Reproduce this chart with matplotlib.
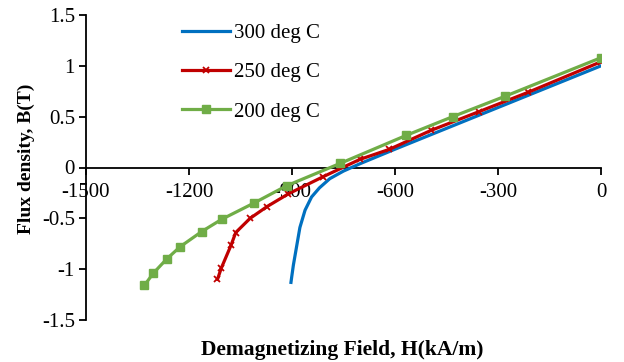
import matplotlib
matplotlib.use("Agg")
import matplotlib.pyplot as plt

# Data
h_300 = [0, -150, -300, -450, -600, -700, -750, -790, -820, -843, -862, -877, -887, -896, -901, -903]
b_300 = [1.0, 0.795, 0.59, 0.385, 0.18, 0.04, -0.035, -0.11, -0.20, -0.29, -0.42, -0.59, -0.785, -0.96, -1.08, -1.13]

h_250 = [0, -212, -355, -495, -617, -702, -809, -911, -973, -1022, -1064, -1077, -1106, -1117]
b_250 = [1.04, 0.74, 0.55, 0.365, 0.178, 0.08, -0.09, -0.26, -0.385, -0.50, -0.64, -0.76, -0.99, -1.10]

h_200 = [0, -280, -432, -568, -760, -916, -1011, -1105, -1163, -1226, -1265, -1304, -1330]
b_200 = [1.08, 0.70, 0.50, 0.315, 0.04, -0.18, -0.35, -0.51, -0.63, -0.78, -0.90, -1.04, -1.16]

labels = ["300 deg C", "250 deg C", "200 deg C"]
x_ticks = [-1500, -1200, -900, -600, -300, 0]
y_ticks = [-1.5, -1, -0.5, 0, 0.5, 1, 1.5]
y_tick_labels = ["-1.5", "-1", "-0.5", "0", "0.5", "1", "1.5"]

plt.rcParams['font.family'] = ['Liberation Serif', 'DejaVu Serif']

fig = plt.figure(figsize=(6.24, 3.62), dpi=100)
ax = fig.add_axes([86/624, 1 - 320/362, (601 - 86)/624, (320 - 15)/362])

ax.plot(h_300, b_300, color='#0070C0', lw=2.3, label=labels[0], zorder=3)
ax.plot(h_250, b_250, color='#C00000', lw=2.3, marker='x', ms=4, mew=1.3,
        label=labels[1], zorder=4)
ax.plot(h_200, b_200, color='#70AD47', lw=2.3, marker='s', ms=6,
        label=labels[2], zorder=5)

ax.set_xlim(-1500, 0)
ax.set_ylim(-1.5, 1.5)
ax.set_xticks(x_ticks)
ax.set_xticklabels([str(v) for v in x_ticks])
ax.set_yticks(y_ticks)
ax.set_yticklabels(y_tick_labels)

ax.spines['top'].set_visible(False)
ax.spines['right'].set_visible(False)
ax.spines['bottom'].set_position(('data', 0))
ax.spines['left'].set_linewidth(1.3)
ax.spines['bottom'].set_linewidth(1.3)
ax.tick_params(axis='both', direction='out', length=5, width=1.3, labelsize=15)
ax.tick_params(axis='x', pad=6)
ax.tick_params(axis='y', pad=3)

fig.text(342/624, 1 - 350/362, "Demagnetizing Field, H(kA/m)", ha='center', va='center',
         fontsize=15.5, fontweight='bold')
fig.text(26/624, 1 - 159/362, "Flux density, B(T)", ha='center', va='center',
         fontsize=14, fontweight='bold', rotation=90)

leg = ax.legend(loc='upper left', bbox_to_anchor=(172/624, 1 - 13/362),
                bbox_transform=fig.transFigure, frameon=False, fontsize=15,
                handlelength=2.3, handletextpad=0.2, labelspacing=0.95,
                borderpad=0)

fig.savefig("out.png", dpi=100)
